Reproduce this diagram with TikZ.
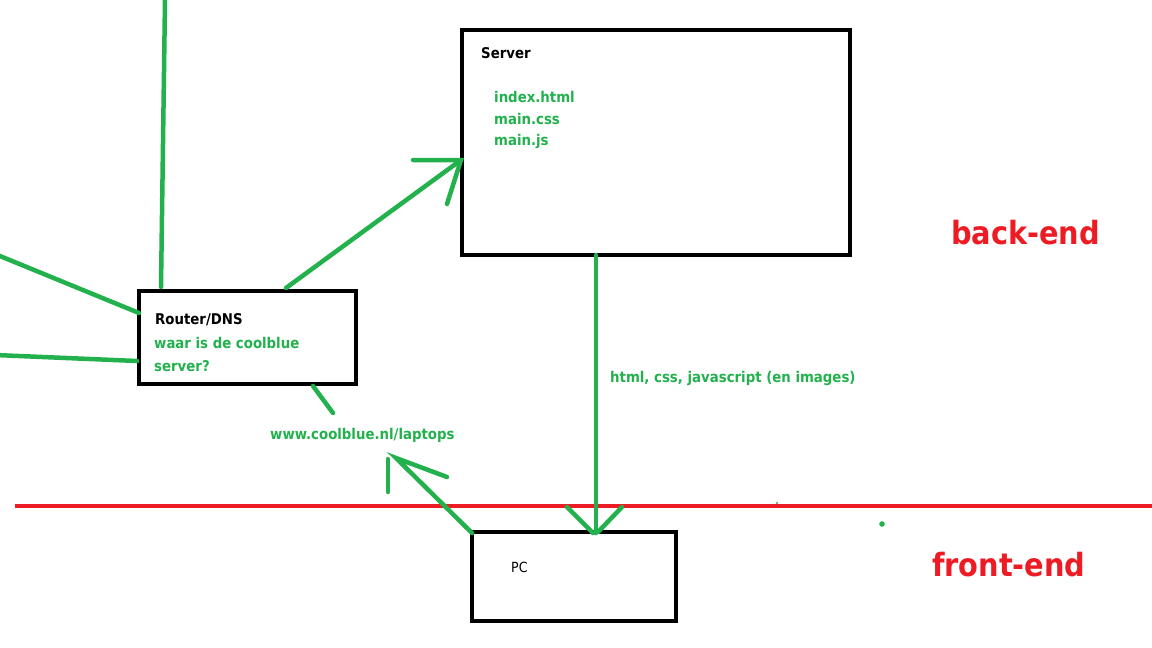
\documentclass[tikz,border=0pt]{standalone}
\usepackage{fontspec}
\setmainfont{DejaVu Sans Condensed}
\begin{document}
\begin{tikzpicture}[x=1pt,y=-1pt,
  box/.style={draw=black,line width=4.5pt},
  gline/.style={draw=pgreen,line width=4.5pt,line cap=round},
  gtxt/.style={text=pgreen,font=\fontsize{14.8}{17}\selectfont\bfseries,anchor=west,inner sep=0pt},
  btxt/.style={text=black,font=\fontsize{14.8}{17}\selectfont\bfseries,anchor=west,inner sep=0pt},
  rtxt/.style={text=pred,font=\fontsize{32}{36}\selectfont\bfseries,anchor=west,inner sep=0pt}]
\definecolor{pgreen}{RGB}{34,177,76}
\definecolor{pred}{RGB}{237,28,36}
\useasboundingbox (0,0) rectangle (1152,648);
% boxes
\draw[box] (462,30) rectangle (850,255);
\draw[box] (139,291) rectangle (356,384);
\draw[box] (472,532) rectangle (676,621);
\coordinate (srvB) at (596,255);
\coordinate (pcT) at (596,533);
% red line
\coordinate (rl) at (15,506);
\coordinate (rr) at (1152,506);
\draw[draw=pred,line width=4.5pt] (rl) -- (rr);
% green lines
\coordinate (top) at (165,0);
\coordinate (rtop) at (161,287);
\draw[gline] (top) -- (rtop);
\coordinate (l1) at (-5,254);
\coordinate (r1) at (139,313);
\draw[gline] (l1) -- (r1);
\coordinate (l2) at (-5,355);
\coordinate (r2) at (137,361);
\draw[gline] (l2) -- (r2);
\coordinate (ra) at (286,288);
\coordinate (sa) at (461,160);
\coordinate (sa1) at (413,160);
\coordinate (sa2) at (447,204);
\draw[gline] (ra) -- (sa);
\draw[gline] (sa1) -- (sa) -- (sa2);
\coordinate (rb) at (313,386);
\coordinate (ub) at (333,413);
\draw[gline] (rb) -- (ub);
\coordinate (pcA) at (472,533);
\coordinate (ut) at (396,458);
\coordinate (ut1) at (447,477);
\coordinate (v1) at (388,459);
\coordinate (v2) at (388,492);
\draw[gline] (pcA) -- (ut) -- (ut1);
\draw[gline] (v1) -- (v2);
\draw[gline] (srvB) -- (pcT);
\coordinate (h1) at (567,507);
\coordinate (h2) at (622,507);
\coordinate (hp1) at (593,533);
\coordinate (hp2) at (598,532);
\draw[gline] (h1) -- (hp1);
\draw[gline] (h2) -- (hp2);
\fill[pgreen] (882,524) circle (2.8pt);
\fill[pgreen] (777,503) circle (1.2pt);
% texts
\node[btxt] (server) at (481,53) {Server};
\node[gtxt] (f1) at (494,97) {index.html};
\node[gtxt] (f2) at (494,119) {main.css};
\node[gtxt] (f3) at (494,141) {main.js};
\node[btxt] (router) at (155,320) {Router/DNS};
\node[gtxt] (q1) at (154,343) {waar is de coolblue};
\node[gtxt] (q2) at (154,366) {server?};
\node[gtxt] (url) at (270,435) {www.coolblue.nl/laptops};
\node[gtxt] (resp) at (610,378) {html, css, javascript (en images)};
\node[anchor=west,inner sep=0pt,font=\fontsize{14}{16}\selectfont] (pc) at (511,567) {PC};
\node[rtxt] (be) at (951,233) {back-end};
\node[rtxt] (fe) at (932,565) {front-end};
\end{tikzpicture}
\end{document}
